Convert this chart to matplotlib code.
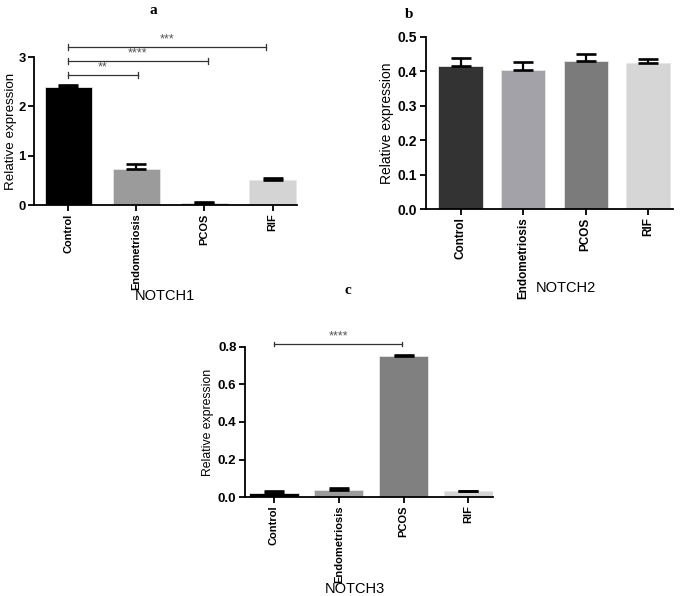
import matplotlib
matplotlib.use("Agg")
import matplotlib.pyplot as plt

plt.rcParams['font.family'] = ['Liberation Sans', 'DejaVu Sans']

groups = ["Control", "Endometriosis", "PCOS", "RIF"]

notch1 = [2.40, 0.73, 0.05, 0.51]
notch1_err = [0.03, 0.10, 0.01, 0.03]
notch2 = [0.415, 0.405, 0.430, 0.425]
notch2_err = [0.025, 0.021, 0.020, 0.012]
notch3 = [0.020, 0.035, 0.750, 0.030]
notch3_err = [0.012, 0.012, 0.008, 0.003]

colors_a = ["#000000", "#9b9b9b", "#808080", "#d4d4d4"]
colors_b = ["#333333", "#a2a2a8", "#7b7b7b", "#d6d6d6"]
colors_c = ["#000000", "#9b9b9b", "#808080", "#d4d4d4"]

# significance brackets: (from, to, height, label)
sig_a = [(0, 2.9, 3.2, "***"), (0, 2.05, 2.92, "****"), (0, 1.02, 2.63, "**")]
sig_c = [(0, 1.98, 0.816, "****")]


def bar_panel(ax, vals, errs, colors, ylim, yticks, width, xlim, lsize, tsize, lpad=3):
    x = list(range(len(vals)))
    ax.bar(x, vals, width=width, color=colors, edgecolor="#e6e6e6", linewidth=0.6, zorder=2)
    ax.errorbar(x, vals, yerr=[[0] * len(errs), errs], fmt="none", ecolor="black",
                elinewidth=1.6, capsize=7.5, capthick=1.9, zorder=3)
    ax.set_xlim(*xlim)
    ax.set_ylim(*ylim)
    ax.set_yticks(yticks)
    ax.set_xticks(x)
    ax.set_xticklabels(groups, rotation=90, fontsize=tsize, fontweight="bold")
    for lab in ax.get_yticklabels():
        lab.set_fontsize(tsize + 1.5)
        lab.set_fontweight("bold")
    ax.set_ylabel("Relative expression", fontsize=lsize, labelpad=lpad)
    ax.spines["top"].set_visible(False)
    ax.spines["right"].set_visible(False)
    ax.spines["left"].set_linewidth(1.3)
    ax.spines["bottom"].set_linewidth(1.3)
    ax.tick_params(axis="y", length=4, width=1.3, pad=2)
    ax.tick_params(axis="x", length=4, width=1.3, pad=2)


def brackets(ax, sigs, tick):
    for x0, x1, h, lab in sigs:
        ax.plot([x0, x1], [h, h], color="#333333", lw=0.9, clip_on=False)
        ax.plot([x0, x0], [h - tick, h + tick], color="#333333", lw=0.9, clip_on=False)
        ax.plot([x1, x1], [h - tick, h + tick], color="#333333", lw=0.9, clip_on=False)
        ax.text((x0 + x1) / 2, h + tick * 0.6, lab, ha="center", va="bottom",
                fontsize=9, color="#555555", clip_on=False)


fig = plt.figure(figsize=(6.8, 5.96), dpi=100)

ax1 = fig.add_axes([0.050, 0.656, 0.387, 0.248])
bar_panel(ax1, notch1, notch1_err, colors_a, (0, 3), [0, 1, 2, 3], 0.69, (-0.5, 3.36), 9.6, 7.9, lpad=1)
brackets(ax1, sig_a, 0.06)

ax2 = fig.add_axes([0.626, 0.649, 0.364, 0.289])
bar_panel(ax2, notch2, notch2_err, colors_b, (0, 0.5), [0.0, 0.1, 0.2, 0.3, 0.4, 0.5], 0.71, (-0.56, 3.4), 10, 8.5)
ax2.set_yticklabels(["0.0", "0.1", "0.2", "0.3", "0.4", "0.5"])

ax3 = fig.add_axes([0.360, 0.166, 0.365, 0.252])
bar_panel(ax3, notch3, notch3_err, colors_c, (0, 0.8), [0.0, 0.2, 0.4, 0.6, 0.8], 0.76, (-0.45, 3.38), 8.8, 8)
ax3.set_yticklabels(["0.0", "0.2", "0.4", "0.6", "0.8"])
brackets(ax3, sig_c, 0.012)

fig.text(165 / 680, 1 - 296 / 596, "NOTCH1", ha="center", va="center", fontsize=10.5)
fig.text(566 / 680, 1 - 288 / 596, "NOTCH2", ha="center", va="center", fontsize=10.5)
fig.text(355 / 680, 1 - 589 / 596, "NOTCH3", ha="center", va="center", fontsize=10.5)

for (px, py, t) in [(153, 10, "a"), (409, 14, "b"), (348, 291, "c")]:
    fig.text(px / 680, 1 - py / 596, t, ha="center", va="center", fontsize=11,
             fontweight="bold", family="Liberation Serif")

fig.savefig("out.png", dpi=100)
